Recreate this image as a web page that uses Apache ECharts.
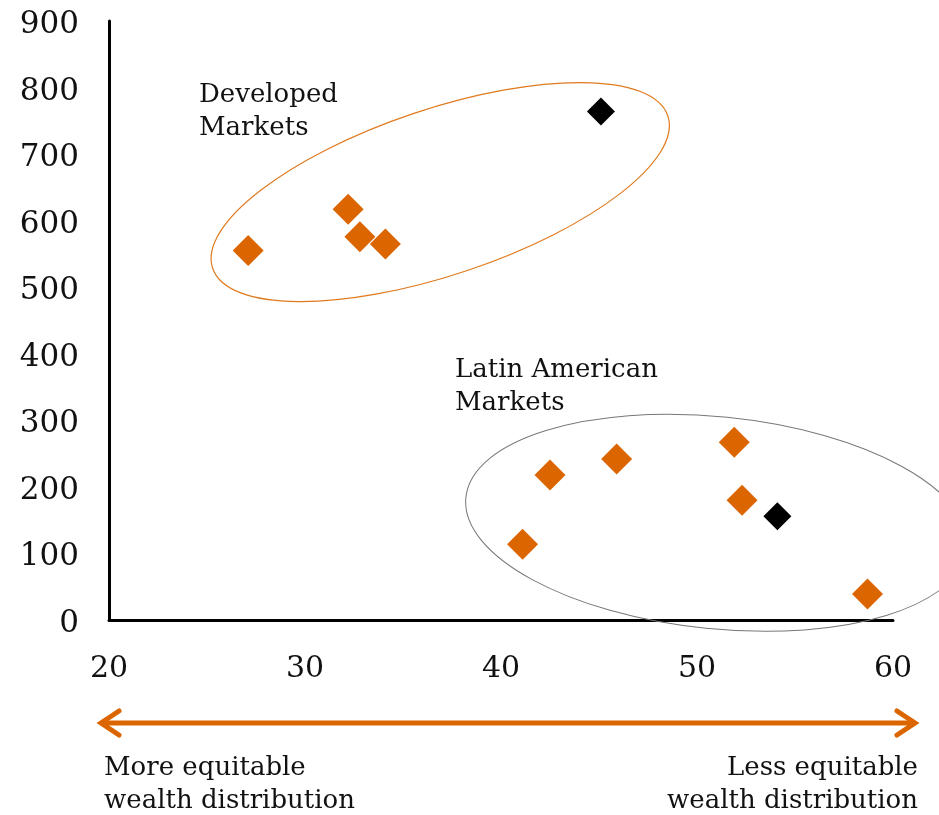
<!DOCTYPE html>
<html>
<head>
<meta charset="utf-8">
<script src="https://cdn.jsdelivr.net/npm/echarts@6/dist/echarts.min.js"></script>
<style>
  html, body { margin: 0; padding: 0; background: #fff; }
  #chart { width: 939px; height: 815px; }
</style>
</head>
<body>
<div id="chart"></div>
<script>
// Wealth-distribution index (x) vs. value (y) for two market groups
const devX = [27.1, 32.2, 32.8, 34.1];
const devY = [555, 617, 576, 565];
const devKeyX = [45.1];
const devKeyY = [764];

const latX = [41.1, 42.5, 45.9, 51.9, 52.3, 58.7];
const latY = [114, 218, 242, 267, 180, 39];
const latKeyX = [54.1];
const latKeyY = [156];

const xTicks = [20, 30, 40, 50, 60];
const yTicks = [0, 100, 200, 300, 400, 500, 600, 700, 800, 900];

const ORANGE = '#DB6600';
const FONT = 'DejaVu Serif';

const zip = (xs, ys) => xs.map((x, i) => [x, ys[i]]);

const chart = echarts.init(document.getElementById('chart'));

chart.setOption({
  animation: false,
  grid: { left: 109, right: 46, top: 21, bottom: 195, containLabel: false },
  xAxis: {
    type: 'value', min: xTicks[0], max: xTicks[xTicks.length - 1], interval: 10,
    axisLine: { show: true, onZero: false, lineStyle: { color: '#000', width: 3 } },
    axisTick: { show: false },
    splitLine: { show: false },
    axisLabel: { margin: 34, color: '#111', fontFamily: FONT, fontSize: 30 }
  },
  yAxis: {
    type: 'value', min: yTicks[0], max: yTicks[yTicks.length - 1], interval: 100,
    axisLine: { show: true, onZero: false, lineStyle: { color: '#000', width: 3 } },
    axisTick: { show: false },
    splitLine: { show: false },
    axisLabel: {
      margin: 30,
      formatter: '{v|{value}}',
      rich: { v: { color: '#111', fontFamily: FONT, fontSize: 31, padding: [8, 0, 0, 0] } }
    }
  },
  series: [
    { type: 'scatter', symbol: 'diamond', symbolSize: 31, itemStyle: { color: ORANGE, opacity: 1 }, data: zip(devX, devY), z: 5 },
    { type: 'scatter', symbol: 'diamond', symbolSize: 28, itemStyle: { color: '#000', opacity: 1 }, data: zip(devKeyX, devKeyY), z: 5 },
    { type: 'scatter', symbol: 'diamond', symbolSize: 31, itemStyle: { color: ORANGE, opacity: 1 }, data: zip(latX, latY), z: 5 },
    { type: 'scatter', symbol: 'diamond', symbolSize: 28, itemStyle: { color: '#000', opacity: 1 }, data: zip(latKeyX, latKeyY), z: 5 }
  ]
});

// Group outlines, anchored to data-space centres
const devC = chart.convertToPixel({ gridIndex: 0 }, [36.9, 643]);
const latC = chart.convertToPixel({ gridIndex: 0 }, [51.0, 146]);

const textStyle = { fill: '#111', font: '26px "DejaVu Serif"', lineHeight: 33 };

chart.setOption({
  graphic: [
    {
      type: 'ellipse', x: devC[0], y: devC[1], rotation: 18.5 * Math.PI / 180,
      shape: { cx: 0, cy: 0, rx: 240, ry: 83 },
      style: { fill: 'none', stroke: '#E07A1F', lineWidth: 1.2 }, z: 1
    },
    {
      type: 'ellipse', x: latC[0], y: latC[1], rotation: -5.8 * Math.PI / 180,
      shape: { cx: 0, cy: 0, rx: 252, ry: 106 },
      style: { fill: 'none', stroke: '#777', lineWidth: 1 }, z: 1
    },
    { type: 'text', x: 199, y: 79, style: Object.assign({ text: 'Developed\nMarkets' }, textStyle) },
    { type: 'text', x: 455, y: 354, style: Object.assign({ text: 'Latin American\nMarkets' }, textStyle) },
    // Double-headed scale arrow under the x axis
    {
      type: 'group',
      children: [
        { type: 'line', shape: { x1: 102, y1: 723, x2: 913, y2: 723 }, style: { stroke: ORANGE, lineWidth: 5 } },
        { type: 'polyline', shape: { points: [[119, 711], [101, 723], [119, 735]] },
          style: { stroke: ORANGE, lineWidth: 5, fill: 'none', lineCap: 'round', lineJoin: 'miter' } },
        { type: 'polyline', shape: { points: [[897, 711], [915, 723], [897, 735]] },
          style: { stroke: ORANGE, lineWidth: 5, fill: 'none', lineCap: 'round', lineJoin: 'miter' } }
      ]
    },
    { type: 'text', x: 104, y: 752, style: Object.assign({ text: 'More equitable\nwealth distribution', align: 'left' }, textStyle) },
    { type: 'text', x: 918, y: 752, style: Object.assign({ text: 'Less equitable\nwealth distribution', align: 'right' }, textStyle) }
  ]
});
</script>
</body>
</html>
